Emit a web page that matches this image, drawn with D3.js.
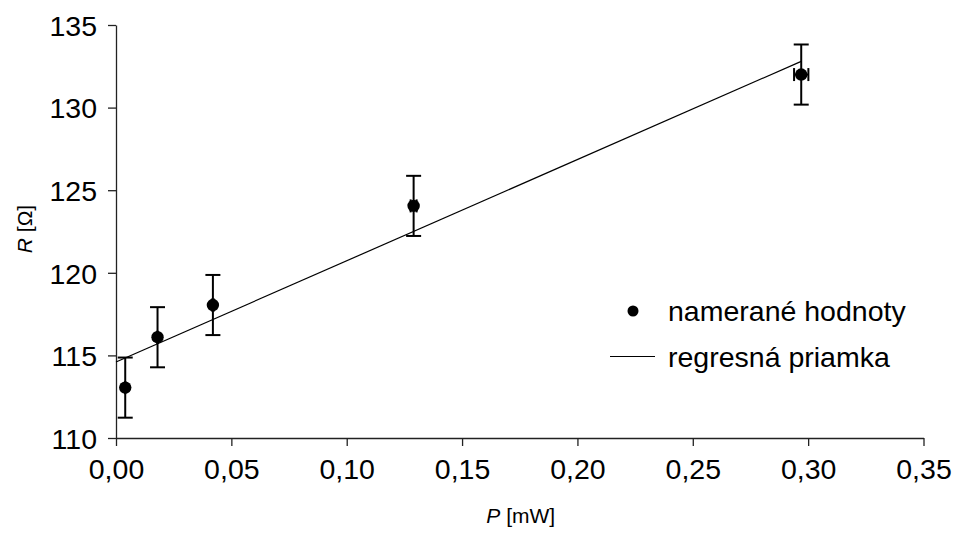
<!DOCTYPE html>
<html>
<head>
<meta charset="utf-8">
<script src="https://cdn.jsdelivr.net/npm/d3@7"></script>
<style>
  body { margin: 0; background: #fff; }
  svg { display: block; font-family: Arial, "Liberation Sans", sans-serif; }
</style>
</head>
<body>
<svg id="chart" width="955" height="535"></svg>
<script>
// measured values
const powerMW = [0.004, 0.018, 0.042, 0.129, 0.297];
const resistance = [113.05, 116.1, 118.05, 124.05, 132.0];
const errR = [1.82, 1.82, 1.82, 1.82, 1.82];
const errP = [0.00004, 0.00018, 0.00042, 0.0013, 0.0031];
// regression line ends
const fitP = [0, 0.297];
const fitR = [114.6, 132.8];

const xTicks = [0, 0.05, 0.10, 0.15, 0.20, 0.25, 0.30, 0.35];
const yTicks = [110, 115, 120, 125, 130, 135];
const legendLabels = ["nameran\u00e9 hodnoty", "regresn\u00e1 priamka"];

const svg = d3.select("#chart");
const m = {left: 116, right: 923.5, top: 25, bottom: 438};

const x = d3.scaleLinear().domain([0, 0.35]).range([m.left, m.right]);
const y = d3.scaleLinear().domain([110, 135]).range([m.bottom, m.top]);

const fmt = d => d.toFixed(2).replace(".", ",");

// axes
let gx = svg.append("g").attr("transform", `translate(0,${m.bottom})`)
  .call(d3.axisBottom(x).tickValues(xTicks).tickFormat(fmt).tickSize(8).tickSizeOuter(0).tickPadding(14));
let gy = svg.append("g").attr("transform", `translate(${m.left},0)`)
  .call(d3.axisLeft(y).tickValues(yTicks).tickSize(8).tickSizeOuter(0).tickPadding(11));

[gx, gy].forEach(g => {
  g.select(".domain").attr("stroke", "#222").attr("stroke-width", 1.3);
  g.selectAll(".tick line").attr("stroke", "#222").attr("stroke-width", 1.3);
  g.selectAll(".tick text").attr("fill", "#000").style("font-size", "28.5px")
    .style("font-family", "Arial, 'Liberation Sans', sans-serif");
});
gx.selectAll(".tick text").attr("dy", "0.68em");
gy.selectAll(".tick text").attr("dy", "0.36em");

// axis titles
let xt = svg.append("text").attr("x", (m.left + m.right) / 2 + 1).attr("y", 523)
  .attr("text-anchor", "middle").style("font-size", "21px");
xt.append("tspan").style("font-style", "italic").text("P");
xt.append("tspan").text(" [mW]");

let yt = svg.append("text").attr("transform", "translate(32,229) rotate(-90)")
  .attr("text-anchor", "middle").style("font-size", "21px");
yt.append("tspan").style("font-style", "italic").text("R");
yt.append("tspan").text(" [\u03a9]");

// regression line
const line = d3.line().x(d => x(d[0])).y(d => y(d[1]));
svg.append("path").datum(fitP.map((p, i) => [p, fitR[i]]))
  .attr("d", line).attr("fill", "none").attr("stroke", "#000").attr("stroke-width", 1.2);

// points with error bars
const pts = powerMW.map((p, i) => ({p, r: resistance[i], er: errR[i], ep: errP[i]}));
const g = svg.append("g").selectAll("g").data(pts).enter().append("g");
const capW = 7.5, capH = 6.5;

g.append("line")
  .attr("x1", d => x(d.p)).attr("x2", d => x(d.p))
  .attr("y1", d => y(d.r + d.er)).attr("y2", d => y(d.r - d.er))
  .attr("stroke", "#000").attr("stroke-width", 2);
g.selectAll(".cap").data(d => [[d.p, d.r + d.er], [d.p, d.r - d.er]]).enter().append("line")
  .attr("x1", d => x(d[0]) - capW).attr("x2", d => x(d[0]) + capW)
  .attr("y1", d => y(d[1])).attr("y2", d => y(d[1]))
  .attr("stroke", "#000").attr("stroke-width", 2);

// horizontal error bars
g.append("line")
  .attr("x1", d => x(d.p - d.ep)).attr("x2", d => x(d.p + d.ep))
  .attr("y1", d => y(d.r)).attr("y2", d => y(d.r))
  .attr("stroke", "#000").attr("stroke-width", 2);
g.selectAll(".hcap").data(d => [[d.p - d.ep, d.r], [d.p + d.ep, d.r]]).enter().append("line")
  .attr("x1", d => x(d[0])).attr("x2", d => x(d[0]))
  .attr("y1", d => y(d[1]) - capH).attr("y2", d => y(d[1]) + capH)
  .attr("stroke", "#000").attr("stroke-width", 2);

g.append("circle")
  .attr("cx", d => x(d.p)).attr("cy", d => y(d.r)).attr("r", 6.2)
  .attr("fill", "#000");

// legend
const lg = svg.append("g");
lg.append("circle").attr("cx", 633).attr("cy", 311).attr("r", 5.5).attr("fill", "#000");
lg.append("line").attr("x1", 610).attr("x2", 655).attr("y1", 356.5).attr("y2", 356.5)
  .attr("stroke", "#000").attr("stroke-width", 1.2);
lg.selectAll("text").data(legendLabels).enter().append("text")
  .attr("x", 668).attr("y", (d, i) => 321 + i * 45.5)
  .style("font-size", "28.5px").text(d => d);
</script>
</body>
</html>
